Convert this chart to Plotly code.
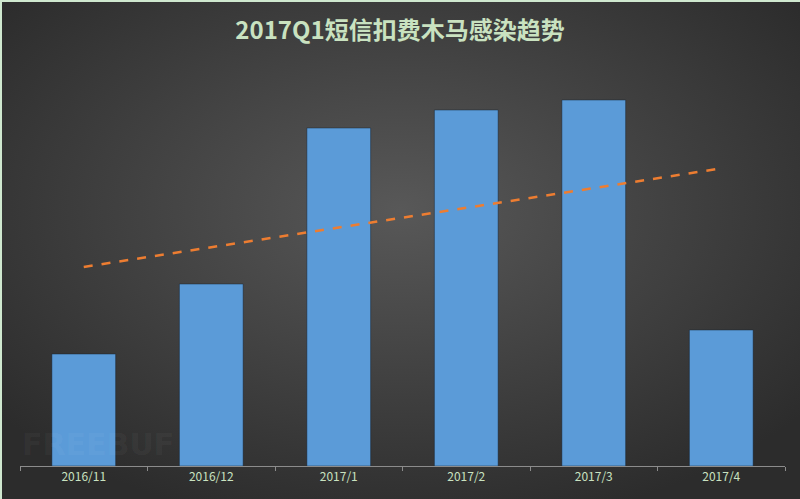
import base64
import numpy as np
import plotly.graph_objects as go

# ── Data (arbitrary units) ───────────────────────────────────────────────────
months = ["2016/11", "2016/12", "2017/1", "2017/2", "2017/3", "2017/4"]
infections = [112, 182, 338, 356, 366, 136]

TITLE = "2017Q1短信扣费木马感染趋势"

# ── Theme ────────────────────────────────────────────────────────────────────
W, H = 800, 499
M = dict(l=20, r=15, t=60, b=33)
BAR_COL = "#5b9bd8"
TREND_COL = "#ed7d31"
TEXT_COL = "#c9e2c0"
AXIS_COL = "#8c8c8c"
FONT = "Noto Sans CJK SC"

# radial grey background + light green edge, drawn as an inline svg
svg = f"""<svg xmlns='http://www.w3.org/2000/svg' width='{W}' height='{H}' viewBox='0 0 {W} {H}' preserveAspectRatio='none'>
<defs><radialGradient id='g' cx='0.5' cy='0.42' r='0.65'>
<stop offset='0' stop-color='#585858'/><stop offset='1' stop-color='#2c2c2c'/></radialGradient></defs>
<rect width='{W}' height='{H}' fill='url(#g)'/>
<rect x='0' y='0' width='{W}' height='2' fill='#cfe8cf'/>
<rect x='0' y='0' width='2' height='{H}' fill='#cfe8cf'/>
</svg>"""
bg_uri = "data:image/svg+xml;base64," + base64.b64encode(svg.encode()).decode()

pw = W - M["l"] - M["r"]
ph = H - M["t"] - M["b"]

# linear trend line, same as Excel's
xs = np.arange(len(infections))
slope, icept = np.polyfit(xs, infections, 1)
trend = slope * xs + icept

fig = go.Figure()
fig.add_trace(go.Bar(
    x=months, y=infections,
    marker=dict(color=BAR_COL, line=dict(color="rgba(20,30,45,0.45)", width=1)),
    hoverinfo="skip", showlegend=False,
))
fig.add_trace(go.Scatter(
    x=[months[0], months[-1]], y=[trend[0], trend[-1]],
    mode="lines",
    line=dict(color=TREND_COL, width=2.5, dash="dash"),
    hoverinfo="skip", showlegend=False,
))

fig.update_layout(
    width=W, height=H,
    margin=M,
    paper_bgcolor="#2e2e2e",
    plot_bgcolor="rgba(0,0,0,0)",
    font=dict(family=FONT, color=TEXT_COL),
    bargap=0.5,
    title=dict(text=f"<b>{TITLE}</b>", x=0.5, xanchor="center",
               y=1 - 31 / H, yanchor="middle",
               font=dict(size=24, color=TEXT_COL, family=FONT)),
    xaxis=dict(
        range=[-0.5, 5.5], showgrid=False, zeroline=False,
        showline=True, linecolor=AXIS_COL, linewidth=1,
        ticks="outside", tickson="boundaries", ticklen=4, tickcolor=AXIS_COL,
        tickfont=dict(size=12, color=TEXT_COL, family=FONT),
    ),
    yaxis=dict(range=[0, ph], visible=False),
    images=[dict(
        source=bg_uri, xref="paper", yref="paper",
        x=-M["l"] / pw, y=1 + M["t"] / ph,
        sizex=W / pw, sizey=H / ph,
        xanchor="left", yanchor="top", sizing="stretch", layer="below",
    )],
    annotations=[dict(
        text="<b>FREEBUF</b>", x=0.0, y=0.005, xref="paper", yref="paper",
        xanchor="left", yanchor="bottom", showarrow=False,
        font=dict(size=30, color="rgba(255,255,255,0.05)", family="DejaVu Sans"),
    )],
)

# drop the browser's default 8px body margin so the chart fills the window
fig.write_html("out.html", config={"displayModeBar": False},
               post_script="document.body.style.margin='0';")
